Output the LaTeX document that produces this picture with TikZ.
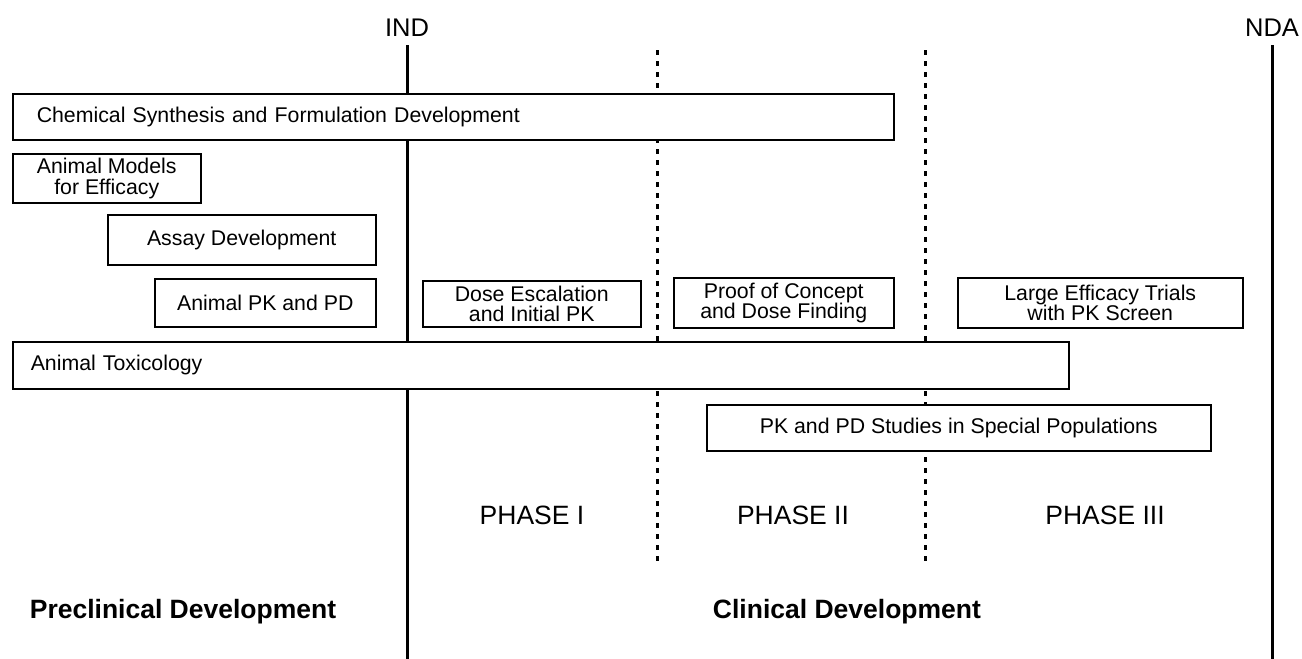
\documentclass[tikz,border=0pt]{standalone}
\usepackage{fontspec}
\setmainfont{Liberation Sans}
\begin{document}
\begin{tikzpicture}[x=1pt,y=-1pt,
  box/.style={draw, line width=1.5pt, fill=white, inner sep=0pt, anchor=north west,
    font=\fontsize{21.3}{20.5}\selectfont, align=center},
  lbox/.style={box, align=left},
  milestone/.style={font=\fontsize{25.5}{28}\selectfont, inner sep=0pt},
  phase/.style={font=\fontsize{26.5}{28}\selectfont, inner sep=0pt},
  stage/.style={font=\bfseries\fontsize{26.5}{28}\selectfont, inner sep=0pt},
  solidline/.style={line width=3pt},
  dotline/.style={line width=3pt, dash pattern=on 5pt off 6pt}]
\useasboundingbox (0,0) rectangle (1302,659);
% milestones
\node[milestone] (ind) at (407,28) {IND};
\node[milestone] (nda) at (1272,28) {NDA};
\coordinate (indtop) at (407,45);
\coordinate (ndatop) at (1272,45);
\coordinate (indbot) at (407,659);
\coordinate (ndabot) at (1272,659);
\draw[solidline] (indtop) -- (indbot);
\draw[solidline] (ndatop) -- (ndabot);
% phase separators
\coordinate (d1top) at (657,50);
\coordinate (d1bot) at (657,563);
\coordinate (d2top) at (925,50);
\coordinate (d2bot) at (925,563);
\draw[dotline] (d1top) -- (d1bot);
\draw[dotline] (d2top) -- (d2bot);
% boxes
\node[lbox, text width=833pt, inner xsep=24pt, minimum height=46pt] (chem) at (12,93)
  {Chemical Synthesis and Formulation Development};
\node[box, minimum width=188pt, minimum height=49pt] (models) at (12,153)
  {Animal Models\\for Efficacy};
\node[box, minimum width=268pt, minimum height=50pt] (assay) at (107,214)
  {Assay Development};
\node[box, minimum width=221pt, minimum height=48pt] (apkpd) at (154,278)
  {Animal PK and PD};
\node[box, minimum width=218pt, minimum height=46pt] (dose) at (422,280)
  {Dose Escalation\\and Initial PK};
\node[box, minimum width=220pt, minimum height=50pt] (poc) at (673,277)
  {Proof of Concept\\and Dose Finding};
\node[box, minimum width=285pt, minimum height=50pt] (large) at (957,277)
  {Large Efficacy Trials\\with PK Screen};
\node[lbox, text width=1020pt, inner xsep=18pt, minimum height=47pt] (tox) at (12,341)
  {Animal Toxicology};
\node[box, minimum width=504pt, minimum height=46pt] (special) at (706,404)
  {PK and PD Studies in Special Populations};
% phases
\node[phase] (p1) at (532,515) {PHASE I};
\node[phase] (p2) at (793,515) {PHASE II};
\node[phase] (p3) at (1105,515) {PHASE III};
% stages
\node[stage] (pre) at (183,612) {Preclinical Development};
\node[stage] (clin) at (847,612) {Clinical Development};
\end{tikzpicture}
\end{document}
